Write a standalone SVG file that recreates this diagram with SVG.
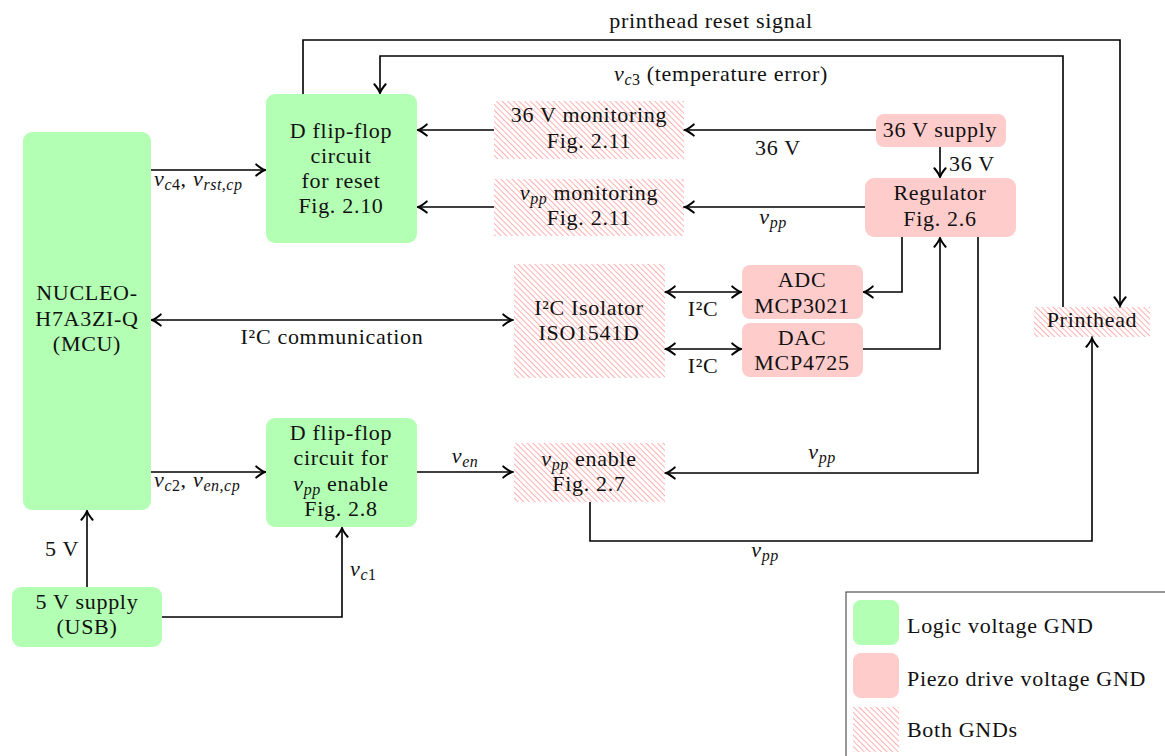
<svg xmlns="http://www.w3.org/2000/svg" width="1165" height="756" viewBox="0 0 1165 756">
<style>
text{font-family:"Liberation Serif","Times New Roman",serif;font-size:22px;letter-spacing:0.7px;fill:#111;text-anchor:middle}
.l{text-anchor:start}
.i{font-style:italic}
.s{font-style:italic;font-size:16px;letter-spacing:0.5px}
.u{font-style:normal}
.g{fill:#b3ffb3}
.p{fill:#ffcccc}
.h{fill:url(#hatch)}
.c path{stroke:#000;stroke-width:1.6;fill:none}
.a{marker-end:url(#arr)}
.b{marker-start:url(#arr);marker-end:url(#arr)}
</style>
<defs>
<pattern id="hatch" patternUnits="userSpaceOnUse" width="4" height="4" patternTransform="rotate(45)">
<rect x="0" y="0" width="4" height="0.85" fill="#ffa3a3"/>
</pattern>
<marker id="arr" markerUnits="userSpaceOnUse" markerWidth="14" markerHeight="14" viewBox="0 0 12 12" refX="10.5" refY="6" orient="auto-start-reverse">
<path d="M3,1.2 Q7.5,5 10.5,6 Q7.5,7 3,10.8" stroke="#000" stroke-width="1.7" fill="none" stroke-linecap="round"/>
</marker>
</defs>
<rect width="1165" height="756" fill="#fff"/>

<g id="connectors" class="c">
<path class="a" d="M151,170 H265"/>
<path class="a" d="M151,472 H265"/>
<path class="b" d="M152,320 H512"/>
<path class="a" d="M494,130 H418"/>
<path class="a" d="M494,207 H418"/>
<path class="a" d="M876,130 H685"/>
<path class="a" d="M865,207 H685"/>
<path class="a" d="M940,147 V177"/>
<path class="b" d="M666,292 H741"/>
<path class="b" d="M666,349 H741"/>
<path class="a" d="M902,237 V292 H864"/>
<path class="a" d="M863,349 H940 V238"/>
<path class="a" d="M978,237 V473 H666"/>
<path class="a" d="M417,472 H512"/>
<path class="a" d="M590,502 V541 H1092 V338"/>
<path class="a" d="M1063,307 V56 H380 V93"/>
<path class="a" d="M303,94 V40 H1120 V306"/>
<path class="a" d="M87,587 V511"/>
<path class="a" d="M162,617 H342 V528"/>
</g>

<g id="labels">
<text x="711" y="28">printhead reset signal</text>
<text x="721" y="81"><tspan class="i">v</tspan><tspan class="s" dy="4">c<tspan class="u">3</tspan></tspan><tspan dy="-4"> (temperature error)</tspan></text>
<text x="778" y="155">36 V</text>
<text x="773" y="224"><tspan class="i">v</tspan><tspan class="s" dy="4">pp</tspan></text>
<text class="l" x="949" y="171">36 V</text>
<text class="l" x="154" y="186"><tspan class="i">v</tspan><tspan class="s" dy="4">c<tspan class="u">4</tspan></tspan><tspan dy="-4">, </tspan><tspan class="i">v</tspan><tspan class="s" dy="4">rst,cp</tspan></text>
<text x="332" y="344">I²C communication</text>
<text x="703" y="316">I²C</text>
<text x="703" y="373">I²C</text>
<text class="l" x="154" y="487"><tspan class="i">v</tspan><tspan class="s" dy="4">c<tspan class="u">2</tspan></tspan><tspan dy="-4">, </tspan><tspan class="i">v</tspan><tspan class="s" dy="4">en,cp</tspan></text>
<text x="465" y="463"><tspan class="i">v</tspan><tspan class="s" dy="4">en</tspan></text>
<text x="822" y="459"><tspan class="i">v</tspan><tspan class="s" dy="4">pp</tspan></text>
<text x="765" y="557"><tspan class="i">v</tspan><tspan class="s" dy="4">pp</tspan></text>
<text x="62" y="556">5 V</text>
<text class="l" x="350" y="576"><tspan class="i">v</tspan><tspan class="s" dy="4">c<tspan class="u">1</tspan></tspan></text>
</g>

<g id="mcu">
<rect class="g" x="23" y="132" width="128" height="378" rx="9"/>
<text x="87" y="300">NUCLEO-</text>
<text x="87" y="326">H7A3ZI-Q</text>
<text x="87" y="351">(MCU)</text>
</g>

<g id="reset-ff">
<rect class="g" x="266" y="94" width="151" height="149" rx="9"/>
<text x="341" y="138">D flip-flop</text>
<text x="341" y="163">circuit</text>
<text x="341" y="188">for reset</text>
<text x="341" y="213">Fig.  2.10</text>
</g>

<g id="enable-ff">
<rect class="g" x="266" y="418" width="151" height="109" rx="9"/>
<text x="341" y="440">D flip-flop</text>
<text x="341" y="465">circuit for</text>
<text x="341" y="491"><tspan class="i">v</tspan><tspan class="s" dy="4">pp</tspan><tspan dy="-4"> enable</tspan></text>
<text x="341" y="516">Fig.  2.8</text>
</g>

<g id="mon36">
<rect class="h" x="494" y="101" width="190" height="58"/>
<text x="589" y="122">36 V monitoring</text>
<text x="589" y="148">Fig.  2.11</text>
</g>

<g id="monvpp">
<rect class="h" x="494" y="179" width="190" height="57"/>
<text x="589" y="200"><tspan class="i">v</tspan><tspan class="s" dy="4">pp</tspan><tspan dy="-4"> monitoring</tspan></text>
<text x="589" y="225">Fig.  2.11</text>
</g>

<g id="supply36">
<rect class="p" x="876" y="114" width="130" height="33" rx="8"/>
<text x="940" y="137">36 V supply</text>
</g>

<g id="regulator">
<rect class="p" x="865" y="178" width="151" height="59" rx="9"/>
<text x="940" y="200">Regulator</text>
<text x="940" y="226">Fig.  2.6</text>
</g>

<g id="adc">
<rect class="p" x="742" y="265" width="121" height="54" rx="8"/>
<text x="802" y="287">ADC</text>
<text x="802" y="313">MCP3021</text>
</g>

<g id="dac">
<rect class="p" x="742" y="323" width="121" height="54" rx="8"/>
<text x="802" y="345">DAC</text>
<text x="802" y="370">MCP4725</text>
</g>

<g id="isolator">
<rect class="h" x="514" y="264" width="151" height="114"/>
<text x="589" y="315">I²C Isolator</text>
<text x="589" y="340">ISO1541D</text>
</g>

<g id="vpp-enable">
<rect class="h" x="514" y="443" width="151" height="59"/>
<text x="589" y="466"><tspan class="i">v</tspan><tspan class="s" dy="4">pp</tspan><tspan dy="-4"> enable</tspan></text>
<text x="589" y="491">Fig.  2.7</text>
</g>

<g id="printhead">
<rect class="h" x="1034" y="307" width="116" height="30"/>
<text x="1092" y="327">Printhead</text>
</g>

<g id="supply5">
<rect class="g" x="12" y="587" width="150" height="60" rx="9"/>
<text x="87" y="609">5 V supply</text>
<text x="87" y="634">(USB)</text>
</g>

<g id="legend">
<rect x="846" y="592" width="330" height="180" fill="#fff" stroke="#333" stroke-width="1"/>
<rect class="g" x="853" y="600" width="46" height="45" rx="8"/>
<rect class="p" x="853" y="653" width="46" height="45" rx="8"/>
<rect class="h" x="853" y="707" width="46" height="45"/>
<text class="l" x="907" y="633">Logic voltage GND</text>
<text class="l" x="907" y="686">Piezo drive voltage GND</text>
<text class="l" x="907" y="737">Both GNDs</text>
</g>
</svg>
